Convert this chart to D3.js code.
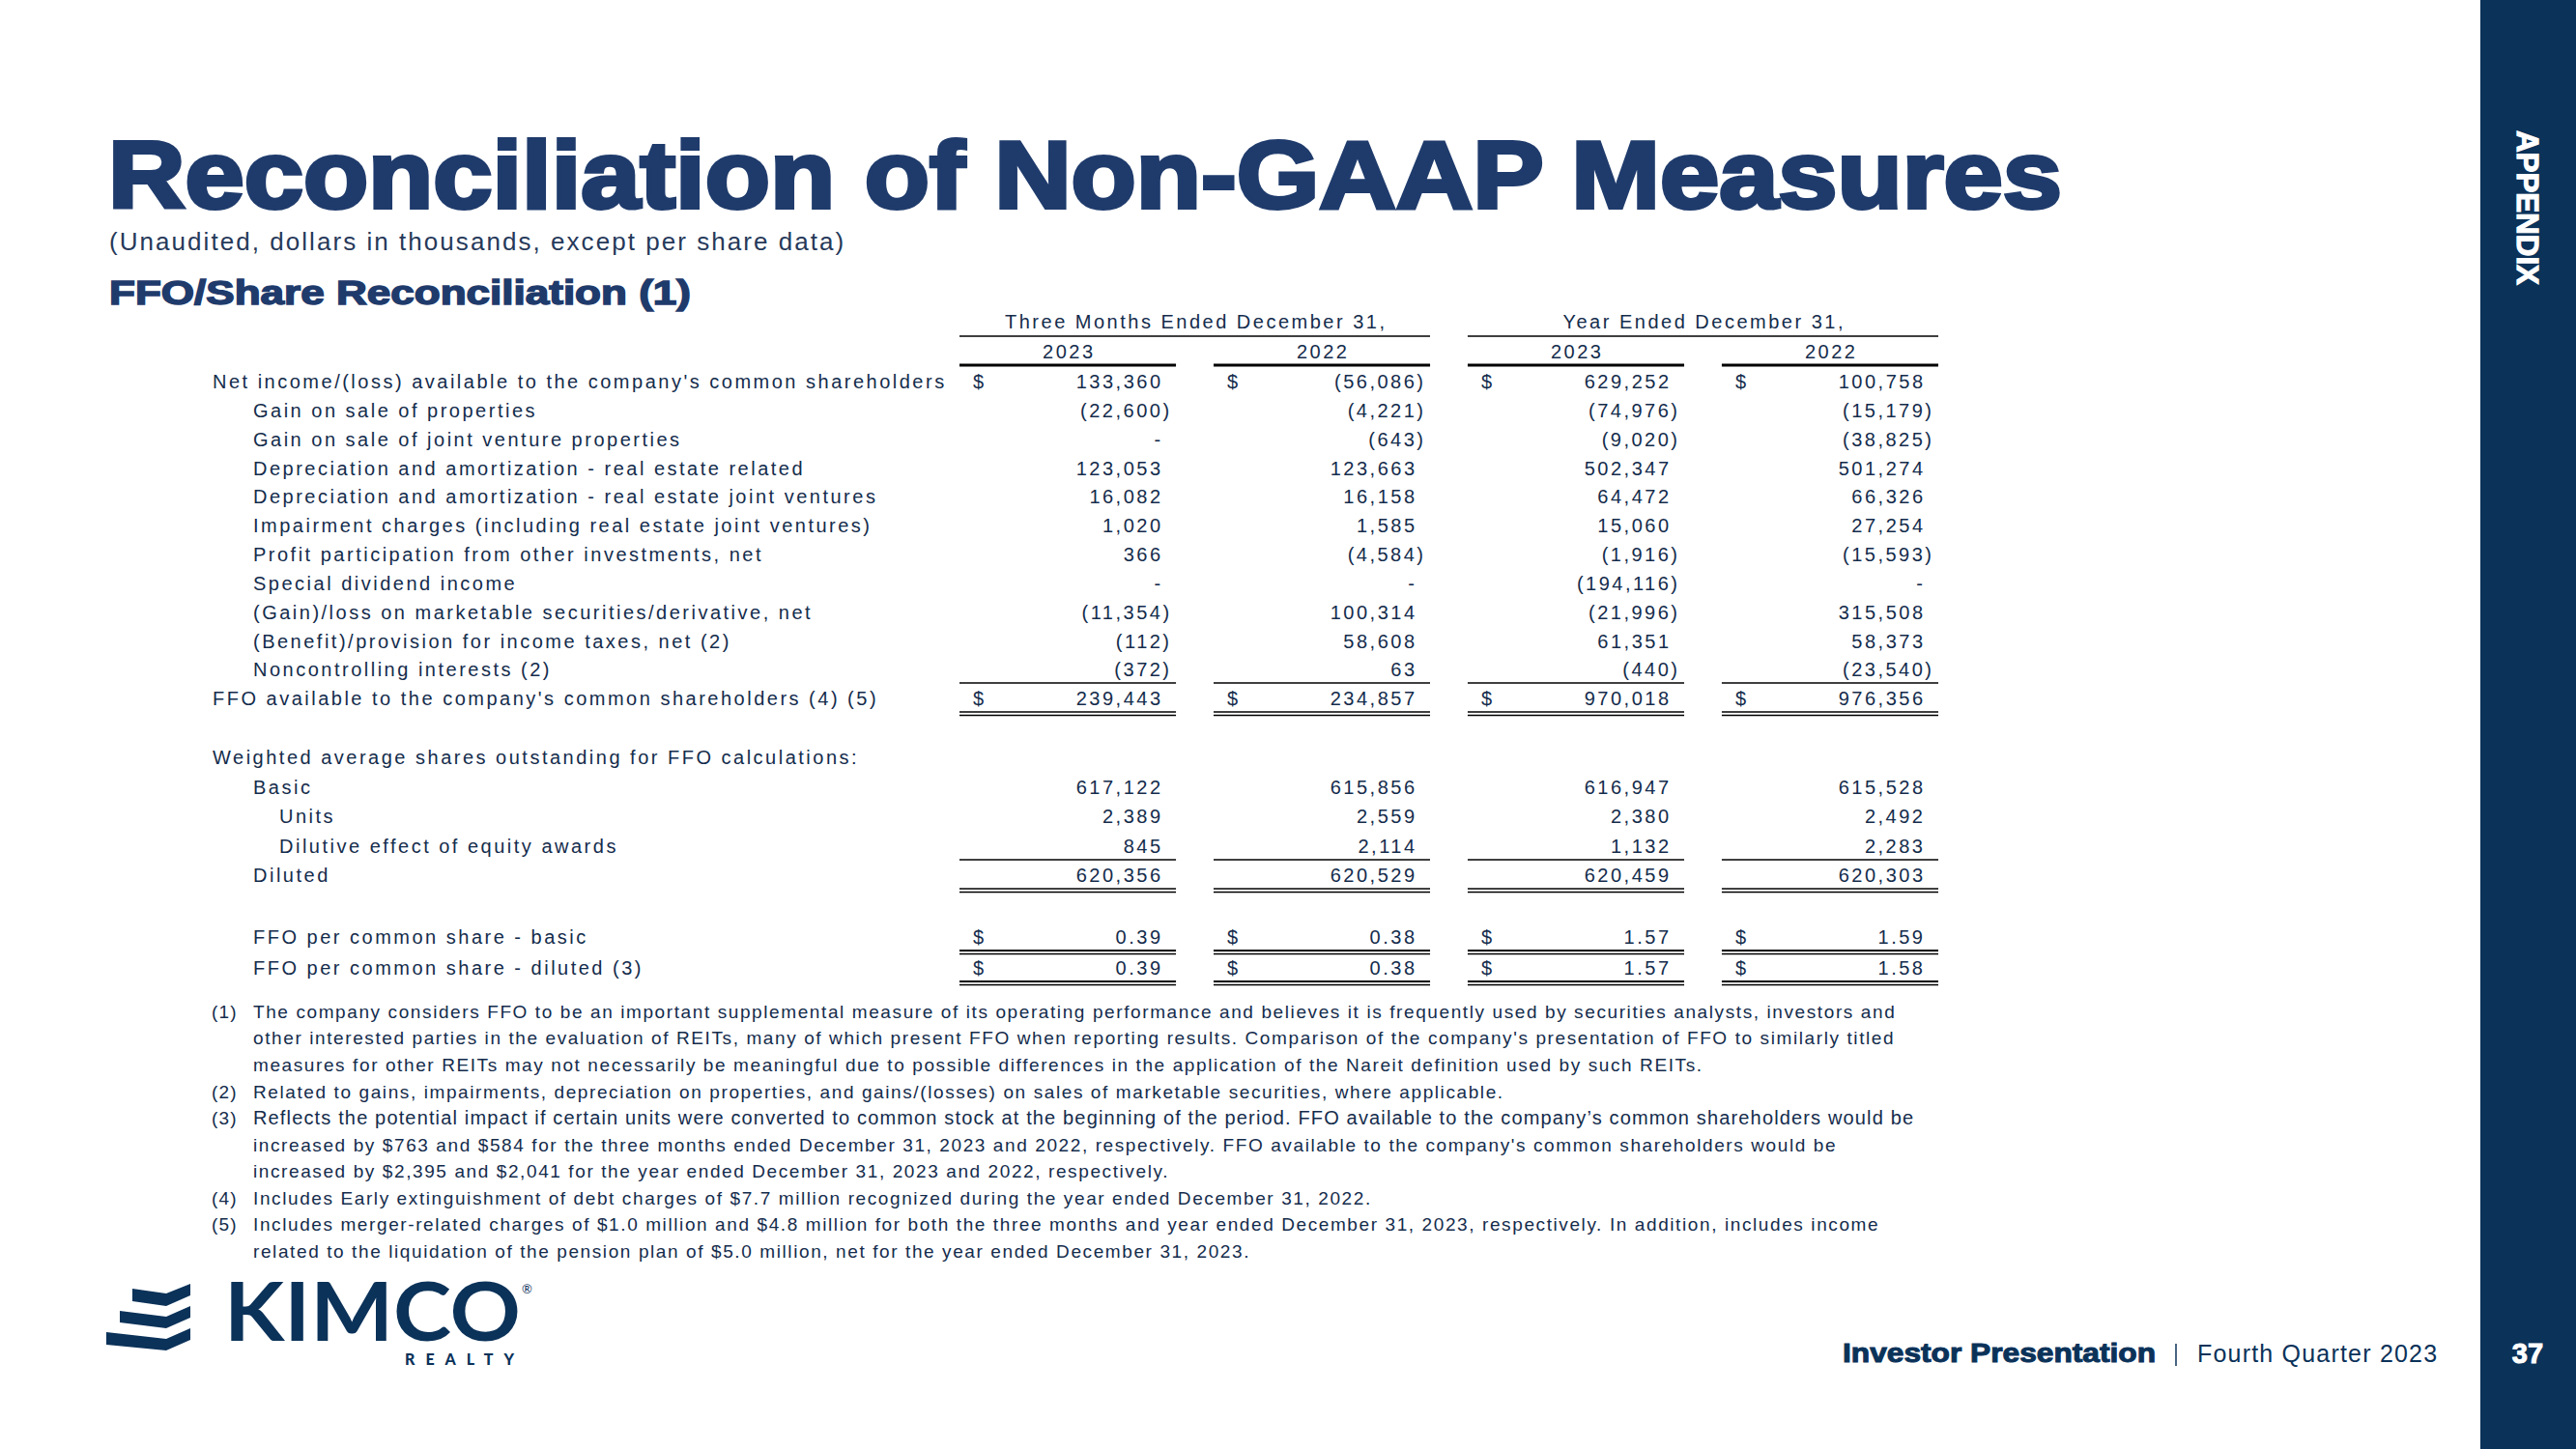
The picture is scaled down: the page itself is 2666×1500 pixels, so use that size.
<!DOCTYPE html>
<html>
<head>
<meta charset="utf-8">
<script src="https://cdn.jsdelivr.net/npm/d3@7"></script>
<style>
  html, body { margin: 0; padding: 0; background: #fff; }
  svg { display: block; }
</style>
</head>
<body>
<div id="slide"></div>
<script>
var width = 2666
var height = 1500

// ---- data ----
var periods = ['Three Months Ended December 31,', 'Year Ended December 31,']
var years = ['2023', '2022', '2023', '2022']

var rowLabels = [
  "Net income/(loss) available to the company's common shareholders",
  'Gain on sale of properties',
  'Gain on sale of joint venture properties',
  'Depreciation and amortization - real estate related',
  'Depreciation and amortization - real estate joint ventures',
  'Impairment charges (including real estate joint ventures)',
  'Profit participation from other investments, net',
  'Special dividend income',
  '(Gain)/loss on marketable securities/derivative, net',
  '(Benefit)/provision for income taxes, net (2)',
  'Noncontrolling interests (2)',
  "FFO available to the company's common shareholders (4) (5)",
  '',
  'Weighted average shares outstanding for FFO calculations:',
  'Basic',
  'Units',
  'Dilutive effect of equity awards',
  'Diluted',
  '',
  'FFO per common share - basic',
  'FFO per common share - diluted (3)'
]

var q4_2023 = [133360, -22600, 0, 123053, 16082, 1020, 366, 0, -11354, -112, -372, 239443,
  null, null, 617122, 2389, 845, 620356, null, 0.39, 0.39]
var q4_2022 = [-56086, -4221, -643, 123663, 16158, 1585, -4584, 0, 100314, 58608, 63, 234857,
  null, null, 615856, 2559, 2114, 620529, null, 0.38, 0.38]
var fy_2023 = [629252, -74976, -9020, 502347, 64472, 15060, -1916, -194116, -21996, 61351, -440, 970018,
  null, null, 616947, 2380, 1132, 620459, null, 1.57, 1.57]
var fy_2022 = [100758, -15179, -38825, 501274, 66326, 27254, -15593, 0, 315508, 58373, -23540, 976356,
  null, null, 615528, 2492, 2283, 620303, null, 1.59, 1.58]

var footnoteMarks = ['(1)', '(2)', '(3)', '(4)', '(5)']
var footnotes = [
  ['The company considers FFO to be an important supplemental measure of its operating performance and believes it is frequently used by securities analysts, investors and',
   "other interested parties in the evaluation of REITs, many of which present FFO when reporting results. Comparison of the company's presentation of FFO to similarly titled",
   'measures for other REITs may not necessarily be meaningful due to possible differences in the application of the Nareit definition used by such REITs.'],
  ['Related to gains, impairments, depreciation on properties, and gains/(losses) on sales of marketable securities, where applicable.'],
  ['Reflects the potential impact if certain units were converted to common stock at the beginning of the period. FFO available to the company\u2019s common shareholders would be',
   "increased by $763 and $584 for the three months ended December 31, 2023 and 2022, respectively. FFO available to the company's common shareholders would be",
   'increased by $2,395 and $2,041 for the year ended December 31, 2023 and 2022, respectively.'],
  ['Includes Early extinguishment of debt charges of $7.7 million recognized during the year ended December 31, 2022.'],
  ['Includes merger-related charges of $1.0 million and $4.8 million for both the three months and year ended December 31, 2023, respectively.  In addition, includes income',
   'related to the liquidation of the pension plan of $5.0 million, net for the year ended December 31, 2023.']
]

// ---- styling ----
var navy = '#0b3259'
var titleBlue = '#1f3b6c'
var ink = '#142c4c'
var sans = '"Liberation Sans", Arial, sans-serif'

var rowIndent = [0, 1, 1, 1, 1, 1, 1, 1, 1, 1, 1, 0, 0, 0, 1, 2, 2, 1, 0, 1, 1]
var indentX = [220, 262, 289]
var dollarRows = [0, 11, 19, 20]
var perShareRows = [19, 20]
var ruleAbove = [11, 17]
var doubleBelow = [11, 17, 19, 20]

var svg = d3
  .select('#slide')
  .append('svg')
  .attr('width', width)
  .attr('height', height)

svg.append('rect').attr('width', width).attr('height', height).attr('fill', '#fff')

// letter-spaced text, the way the slide sets its table
function tracked(sel, size, spacing) {
  return sel
    .attr('font-family', sans)
    .attr('font-size', size)
    .attr('letter-spacing', spacing)
}

// right sidebar
svg
  .append('rect')
  .attr('x', 2567)
  .attr('y', 0)
  .attr('width', width - 2567)
  .attr('height', height)
  .attr('fill', navy)

svg
  .append('text')
  .attr('transform', 'translate(2616,215) rotate(90)')
  .attr('text-anchor', 'middle')
  .attr('dy', '0.36em')
  .attr('font-family', sans)
  .attr('font-weight', 900)
  .attr('font-size', 31)
  .attr('fill', '#fff')
  .attr('stroke', '#fff')
  .attr('stroke-width', 1.2)
  .attr('textLength', 160)
  .attr('lengthAdjust', 'spacingAndGlyphs')
  .text('APPENDIX')

// titles
svg
  .append('text')
  .attr('x', 112)
  .attr('y', 215)
  .attr('font-family', sans)
  .attr('font-weight', 900)
  .attr('font-size', 98)
  .attr('fill', titleBlue)
  .attr('stroke', titleBlue)
  .attr('stroke-width', 4)
  .attr('textLength', 2022)
  .attr('lengthAdjust', 'spacingAndGlyphs')
  .text('Reconciliation of Non-GAAP Measures')

svg
  .append('text')
  .call(tracked, 26, 2.05)
  .attr('x', 113)
  .attr('y', 259)
  .attr('fill', '#26395a')
  .text('(Unaudited, dollars in thousands, except per share data)')

svg
  .append('text')
  .attr('x', 113)
  .attr('y', 315)
  .attr('font-family', sans)
  .attr('font-weight', 900)
  .attr('font-size', 35)
  .attr('fill', titleBlue)
  .attr('stroke', titleBlue)
  .attr('stroke-width', 1.5)
  .attr('textLength', 602)
  .attr('lengthAdjust', 'spacingAndGlyphs')
  .text('FFO/Share Reconciliation (1)')

// ---- table ----
var columns = [q4_2023, q4_2022, fy_2023, fy_2022]
var fs = 20
var ls = 2.5

var x = d3
  .scaleBand()
  .domain(d3.range(columns.length))
  .range([993, 2006])
  .paddingInner(0.148)

var y = d3
  .scaleLinear()
  .domain([0, 11, 17, 20])
  .range([395, 723, 906, 1002])

var bw = x.bandwidth()
var table = svg.append('g').attr('fill', ink)

// period headers
periods.forEach(function(p, i) {
  var x0 = x(i * 2)
  var x1 = x(i * 2 + 1) + bw
  table
    .append('text')
    .call(tracked, fs, ls)
    .attr('x', (x0 + x1) / 2 + ls / 2)
    .attr('y', 333)
    .attr('dy', '0.36em')
    .attr('text-anchor', 'middle')
    .text(p)
  table
    .append('line')
    .attr('x1', x0)
    .attr('x2', x1)
    .attr('y1', 348)
    .attr('y2', 348)
    .attr('stroke', '#000')
    .attr('stroke-width', 1.5)
})

table
  .selectAll('.year')
  .data(years)
  .enter()
  .append('text')
  .attr('class', 'year')
  .call(tracked, fs, ls)
  .attr('x', (d, i) => x(i) + bw / 2 + ls / 2)
  .attr('y', 364)
  .attr('dy', '0.36em')
  .attr('text-anchor', 'middle')
  .text(d => d)

table
  .selectAll('.year-rule')
  .data(years)
  .enter()
  .append('line')
  .attr('class', 'year-rule')
  .attr('x1', (d, i) => x(i))
  .attr('x2', (d, i) => x(i) + bw)
  .attr('y1', 378)
  .attr('y2', 378)
  .attr('stroke', '#000')
  .attr('stroke-width', 3)

// row labels
table
  .selectAll('.label')
  .data(rowLabels)
  .enter()
  .append('text')
  .attr('class', 'label')
  .call(tracked, fs, ls)
  .attr('x', (d, i) => indentX[rowIndent[i]])
  .attr('y', (d, i) => y(i))
  .attr('dy', '0.36em')
  .text(d => d)

var fmtInt = d3.format(',')
var fmtShare = d3.format('.2f')

function cellText(v, r) {
  if (v === 0) return '-'
  var s = perShareRows.indexOf(r) >= 0 ? fmtShare(Math.abs(v)) : fmtInt(Math.abs(v))
  return v < 0 ? '(' + s + ')' : s
}

columns.forEach(function(col, c) {
  var right = x(c) + bw - 16 + ls
  var cells = col
    .map((v, r) => ({ v: v, r: r }))
    .filter(d => d.v !== null)

  table
    .selectAll('.val-' + c)
    .data(cells)
    .enter()
    .append('text')
    .attr('class', 'val-' + c)
    .call(tracked, fs, ls)
    .attr('x', d => (d.v < 0 ? right + 9 : right))
    .attr('y', d => y(d.r))
    .attr('dy', '0.36em')
    .attr('text-anchor', 'end')
    .text(d => cellText(d.v, d.r))

  table
    .selectAll('.dollar-' + c)
    .data(dollarRows)
    .enter()
    .append('text')
    .attr('class', 'dollar-' + c)
    .call(tracked, fs, 0)
    .attr('x', x(c) + 14)
    .attr('y', d => y(d))
    .attr('dy', '0.36em')
    .text('$')

  table
    .selectAll('.above-' + c)
    .data(ruleAbove)
    .enter()
    .append('line')
    .attr('class', 'above-' + c)
    .attr('x1', x(c))
    .attr('x2', x(c) + bw)
    .attr('y1', d => y(d) - 16)
    .attr('y2', d => y(d) - 16)
    .attr('stroke', '#000')
    .attr('stroke-width', 1.5)

  doubleBelow.forEach(function(r) {
    var thick = perShareRows.indexOf(r) >= 0
    ;[14, 17.5].forEach(function(off, k) {
      table
        .append('line')
        .attr('x1', x(c))
        .attr('x2', x(c) + bw)
        .attr('y1', y(r) + off)
        .attr('y2', y(r) + off)
        .attr('stroke', '#000')
        .attr('stroke-width', thick && k === 0 ? 2.2 : 1.4)
    })
  })
})

// ---- footnotes ----
var noteLines = []
footnotes.forEach(function(lines, n) {
  lines.forEach(function(t, k) {
    noteLines.push({ mark: k === 0 ? footnoteMarks[n] : '', text: t, plain: n === 2 && k === 0 })
  })
})

var fy = d3
  .scaleLinear()
  .domain([0, noteLines.length - 1])
  .range([1047, 1295])

var notes = svg.append('g').attr('fill', ink)

notes
  .selectAll('.mark')
  .data(noteLines)
  .enter()
  .append('text')
  .attr('class', 'mark')
  .call(tracked, 19, 1.2)
  .attr('x', 219)
  .attr('y', (d, i) => fy(i))
  .attr('dy', '0.36em')
  .text(d => d.mark)

notes
  .selectAll('.note')
  .data(noteLines)
  .enter()
  .append('text')
  .attr('class', 'note')
  .call(tracked, 19, 1.6)
  .attr('x', 262)
  .attr('y', (d, i) => fy(i))
  .attr('dy', '0.36em')
  // one line of note (3) is set in the plain face, without tracking
  .attr('font-size', d => (d.plain ? 20 : 19))
  .attr('letter-spacing', d => (d.plain ? 1.15 : 1.6))
  .text(d => d.text)

// ---- footer ----
var logo = svg.append('g').attr('fill', navy)

var stripes = [
  [[137, 1334], [172, 1339], [197, 1329], [197, 1341], [172, 1352], [137, 1347]],
  [[124, 1357], [172, 1363], [197, 1352], [197, 1364], [172, 1375], [124, 1369]],
  [[110, 1379], [172, 1386], [197, 1375], [197, 1387], [172, 1398], [110, 1392]]
]
logo
  .selectAll('.stripe')
  .data(stripes)
  .enter()
  .append('path')
  .attr('class', 'stripe')
  .attr('d', d => d3.line()(d) + 'Z')

logo
  .append('text')
  .attr('x', 232)
  .attr('y', 1388)
  .attr('font-family', 'Lato, "Noto Sans", sans-serif')
  .attr('font-weight', 700)
  .attr('font-size', 84)
  .attr('textLength', 307)
  .attr('lengthAdjust', 'spacingAndGlyphs')
  .text('KIMCO')

logo
  .append('text')
  .attr('x', 540)
  .attr('y', 1339)
  .attr('font-family', 'Lato, sans-serif')
  .attr('font-size', 13)
  .text('\u00ae')

logo
  .append('text')
  .attr('x', 419)
  .attr('y', 1413)
  .attr('font-family', 'Lato, "Noto Sans", sans-serif')
  .attr('font-weight', 900)
  .attr('font-size', 16)
  .attr('textLength', 113)
  .attr('lengthAdjust', 'spacing')
  .text('REALTY')

svg
  .append('text')
  .attr('x', 1907)
  .attr('y', 1410)
  .attr('font-family', sans)
  .attr('font-weight', 900)
  .attr('font-size', 27)
  .attr('fill', navy)
  .attr('stroke', navy)
  .attr('stroke-width', 1)
  .attr('textLength', 324)
  .attr('lengthAdjust', 'spacingAndGlyphs')
  .text('Investor Presentation')

svg
  .append('line')
  .attr('x1', 2252)
  .attr('x2', 2252)
  .attr('y1', 1391)
  .attr('y2', 1414)
  .attr('stroke', navy)
  .attr('stroke-width', 1.5)

svg
  .append('text')
  .call(tracked, 25, 1.2)
  .attr('x', 2274)
  .attr('y', 1410)
  .attr('fill', navy)
  .text('Fourth Quarter 2023')

svg
  .append('text')
  .attr('x', 2616)
  .attr('y', 1411)
  .attr('text-anchor', 'middle')
  .attr('font-family', sans)
  .attr('font-weight', 900)
  .attr('font-size', 29)
  .attr('fill', '#fff')
  .attr('stroke', '#fff')
  .attr('stroke-width', 1)
  .text('37')
</script>
</body>
</html>
